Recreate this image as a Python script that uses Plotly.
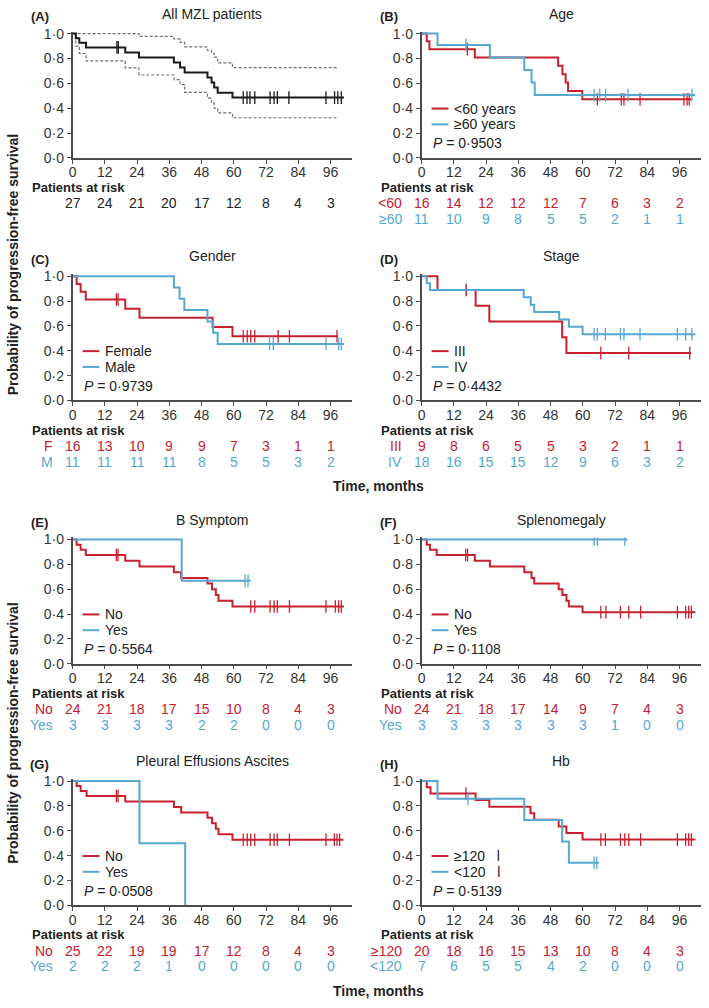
import plotly.graph_objects as go

W, H = 709, 1008
RED = '#C8202E'
BLUE = '#56A8D2'
BLACK = '#1a1a1a'
GREY = '#6e6e6e'
AXIS = '#4a4a4a'
TXT = '#222222'
FONT = 'Liberation Sans, Arial, sans-serif'

# ---------------- axis / table labels ----------------
TICK_TIMES = [0, 12, 24, 36, 48, 60, 72, 84, 96]
Y_TICKS = [0, 0.2, 0.4, 0.6, 0.8, 1.0]
Y_TICKTEXT = ['0·0', '0·2', '0·4', '0·6', '0·8', '1·0']

# ---------------- (A) All MZL patients ----------------
A_times = [0, 1.2, 2.5, 5.0, 19.6, 24.7, 37.7, 40.0, 41.7, 50.2, 51.7, 52.7, 54.0, 59.5]
A_surv = [1.0, 0.963, 0.926, 0.889, 0.848, 0.808, 0.768, 0.727, 0.687, 0.646, 0.606, 0.566, 0.525, 0.485]
A_cens = [16.5, 17.0, 63.5, 64.9, 66.0, 67.8, 73.5, 75.0, 76.2, 80.5, 94.3, 97.5, 98.7, 100.0]
A_end = 101.0
A_upper_times = [0, 24.7, 37.7, 40.0, 41.7, 50.2, 51.7, 52.7, 54.0, 59.5]
A_upper = [1.0, 0.977, 0.957, 0.930, 0.893, 0.866, 0.840, 0.810, 0.765, 0.727]
A_lower_times = [0, 1.2, 2.5, 5.0, 19.6, 24.7, 37.7, 40.0, 41.7, 50.2, 51.7, 52.7, 54.0, 59.5]
A_lower = [1.0, 0.90, 0.84, 0.78, 0.725, 0.667, 0.630, 0.590, 0.527, 0.480, 0.440, 0.400, 0.362, 0.323]
A_ci_end = 99.0
A_risk = [27, 24, 21, 20, 17, 12, 8, 4, 3]

# ---------------- (B) Age ----------------
B_lt60_times = [0, 1.9, 2.9, 19.8, 50.8, 52.4, 53.6, 54.5, 59.8]
B_lt60_surv = [1.0, 0.9375, 0.875, 0.808, 0.741, 0.673, 0.606, 0.539, 0.472]
B_lt60_cens = [17.0, 65.4, 74.3, 75.3, 81.3, 97.6, 98.8, 99.6]
B_lt60_end = 100.6
B_ge60_times = [0, 5.9, 25.4, 38.2, 40.9, 42.1]
B_ge60_surv = [1.0, 0.909, 0.808, 0.707, 0.606, 0.505]
B_ge60_cens = [16.5, 64.2, 66.3, 68.5, 76.8, 100.6]
B_ge60_end = 101.8
B_risk_lt60 = [16, 14, 12, 12, 12, 7, 6, 3, 2]
B_risk_ge60 = [11, 10, 9, 8, 5, 5, 2, 1, 1]

# ---------------- (C) Gender ----------------
C_f_times = [0, 1.5, 3.0, 4.9, 19.6, 24.9, 52.1, 59.5]
C_f_surv = [1.0, 0.9375, 0.875, 0.8125, 0.739, 0.665, 0.591, 0.517]
C_f_cens = [16.3, 16.9, 63.5, 65.0, 66.3, 67.8, 76.5, 80.7, 98.4]
C_f_end = 98.8
C_m_times = [0, 37.7, 39.8, 41.6, 50.2, 52.3, 54.0]
C_m_surv = [1.0, 0.909, 0.818, 0.727, 0.636, 0.545, 0.455]
C_m_cens = [73.3, 74.7, 94.3, 99.0, 100.0]
C_m_end = 101.0
C_risk_f = [16, 13, 10, 9, 9, 7, 3, 1, 1]
C_risk_m = [11, 11, 11, 11, 8, 5, 5, 3, 2]

# ---------------- (D) Stage ----------------
D_iii_times = [0, 5.9, 20.1, 25.2, 52.3, 53.9]
D_iii_surv = [1.0, 0.889, 0.762, 0.635, 0.508, 0.381]
D_iii_cens = [16.7, 66.7, 77.1, 99.8]
D_iii_end = 100.3
D_iv_times = [0, 1.9, 3.1, 38.0, 40.6, 41.9, 51.2, 54.8, 59.9]
D_iv_surv = [1.0, 0.944, 0.889, 0.830, 0.770, 0.711, 0.652, 0.593, 0.533]
D_iv_cens = [16.4, 64.2, 65.4, 68.4, 74.0, 75.3, 81.3, 95.2, 98.3, 100.6]
D_iv_end = 101.9
D_risk_iii = [9, 8, 6, 5, 5, 3, 2, 1, 1]
D_risk_iv = [18, 16, 15, 15, 12, 9, 6, 3, 2]

# ---------------- (E) B Symptom ----------------
E_no_times = [0, 1.5, 3.0, 4.9, 19.6, 24.9, 37.7, 40.4, 50.2, 51.9, 53.3, 54.3, 59.5]
E_no_surv = [1.0, 0.958, 0.917, 0.875, 0.829, 0.783, 0.737, 0.691, 0.645, 0.599, 0.553, 0.507, 0.461]
E_no_cens = [16.3, 16.9, 66.3, 67.8, 73.5, 75.0, 76.2, 80.7, 94.3, 97.8, 99.0, 100.0]
E_no_end = 101.0
E_yes_times = [0, 40.6]
E_yes_surv = [1.0, 0.667]
E_yes_cens = [64.2, 65.3]
E_yes_end = 66.3
E_risk_no = [24, 21, 18, 17, 15, 10, 8, 4, 3]
E_risk_yes = [3, 3, 3, 3, 2, 2, 0, 0, 0]

# ---------------- (F) Splenomegaly ----------------
F_no_times = [0, 1.9, 3.1, 5.6, 19.8, 25.4, 38.2, 40.9, 41.9, 51.0, 52.4, 53.9, 54.8, 59.9]
F_no_surv = [1.0, 0.958, 0.917, 0.875, 0.829, 0.783, 0.737, 0.691, 0.645, 0.599, 0.553, 0.507, 0.461, 0.415]
F_no_cens = [16.4, 17.1, 66.7, 68.6, 74.0, 77.1, 81.5, 95.2, 98.3, 99.4, 100.4]
F_no_end = 101.9
F_yes_times = [0]
F_yes_surv = [1.0]
F_yes_cens = [64.2, 65.4, 75.6]
F_yes_end = 76.6
F_risk_no = [24, 21, 18, 17, 14, 9, 7, 4, 3]
F_risk_yes = [3, 3, 3, 3, 3, 3, 1, 0, 0]

# ---------------- (G) Pleural Effusions Ascites ----------------
G_no_times = [0, 1.5, 3.0, 5.2, 19.6, 37.7, 40.4, 50.2, 51.9, 53.3, 54.3, 59.5]
G_no_surv = [1.0, 0.96, 0.92, 0.88, 0.836, 0.792, 0.748, 0.704, 0.66, 0.616, 0.572, 0.528]
G_no_cens = [16.3, 16.9, 63.5, 65.0, 66.3, 67.8, 73.5, 75.0, 76.2, 80.7, 94.3, 97.4, 98.4, 99.4]
G_no_end = 100.8
G_yes_times = [0, 24.9, 41.9]
G_yes_surv = [1.0, 0.5, 0.0]
G_yes_cens = []
G_yes_end = 41.9
G_risk_no = [25, 22, 19, 19, 17, 12, 8, 4, 3]
G_risk_yes = [2, 2, 2, 1, 0, 0, 0, 0, 0]

# ---------------- (H) Hb ----------------
H_ge_times = [0, 1.9, 3.3, 20.1, 25.2, 40.5, 41.9, 51.0, 53.9, 59.9]
H_ge_surv = [1.0, 0.95, 0.90, 0.847, 0.794, 0.741, 0.688, 0.635, 0.582, 0.529]
H_ge_cens = [16.5, 66.7, 68.4, 74.0, 75.6, 77.1, 81.5, 95.2, 98.3, 99.4, 100.4]
H_ge_end = 101.9
H_lt_times = [0, 5.9, 38.2, 52.3, 54.8]
H_lt_surv = [1.0, 0.857, 0.686, 0.514, 0.343]
H_lt_cens = [17.3, 64.2, 65.2]
H_lt_end = 66.0
H_risk_ge = [20, 18, 16, 15, 13, 10, 8, 4, 3]
H_risk_lt = [7, 6, 5, 5, 4, 2, 0, 0, 0]

NBSP = '\u00a0'
panels = [
    dict(tag='(A)', title='All MZL patients', pval=None,
         curves=[(A_times, A_surv, A_cens, A_end, BLACK, None)],
         rows=[('', A_risk, TXT)]),
    dict(tag='(B)', title='Age', pval='0·9503',
         curves=[(B_lt60_times, B_lt60_surv, B_lt60_cens, B_lt60_end, RED, '<60 years'),
                 (B_ge60_times, B_ge60_surv, B_ge60_cens, B_ge60_end, BLUE, '≥60 years')],
         rows=[('<60', B_risk_lt60, RED), ('≥60', B_risk_ge60, BLUE)]),
    dict(tag='(C)', title='Gender', pval='0·9739',
         curves=[(C_f_times, C_f_surv, C_f_cens, C_f_end, RED, 'Female'),
                 (C_m_times, C_m_surv, C_m_cens, C_m_end, BLUE, 'Male')],
         rows=[('F', C_risk_f, RED), ('M', C_risk_m, BLUE)]),
    dict(tag='(D)', title='Stage', pval='0·4432',
         curves=[(D_iii_times, D_iii_surv, D_iii_cens, D_iii_end, RED, 'III'),
                 (D_iv_times, D_iv_surv, D_iv_cens, D_iv_end, BLUE, 'IV')],
         rows=[('III', D_risk_iii, RED), ('IV', D_risk_iv, BLUE)]),
    dict(tag='(E)', title='B Symptom', pval='0·5564',
         curves=[(E_no_times, E_no_surv, E_no_cens, E_no_end, RED, 'No'),
                 (E_yes_times, E_yes_surv, E_yes_cens, E_yes_end, BLUE, 'Yes')],
         rows=[('No', E_risk_no, RED), ('Yes', E_risk_yes, BLUE)]),
    dict(tag='(F)', title='Splenomegaly', pval='0·1108',
         curves=[(F_no_times, F_no_surv, F_no_cens, F_no_end, RED, 'No'),
                 (F_yes_times, F_yes_surv, F_yes_cens, F_yes_end, BLUE, 'Yes')],
         rows=[('No', F_risk_no, RED), ('Yes', F_risk_yes, BLUE)]),
    dict(tag='(G)', title='Pleural Effusions Ascites', pval='0·0508',
         curves=[(G_no_times, G_no_surv, G_no_cens, G_no_end, RED, 'No'),
                 (G_yes_times, G_yes_surv, G_yes_cens, G_yes_end, BLUE, 'Yes')],
         rows=[('No', G_risk_no, RED), ('Yes', G_risk_yes, BLUE)]),
    dict(tag='(H)', title='Hb', pval='0·5139',
         curves=[(H_ge_times, H_ge_surv, H_ge_cens, H_ge_end, RED, '≥120' + NBSP * 3 + 'l'),
                 (H_lt_times, H_lt_surv, H_lt_cens, H_lt_end, BLUE, '<120' + NBSP * 3 + 'l')],
         rows=[('≥120', H_risk_ge, RED), ('<120', H_risk_lt, BLUE)]),
]

# ---------------- geometry (pixels) ----------------
COL_X = [69, 420]
PLOT_W = 281
ROW_BOTTOM = [154, 400, 667, 912]
UNIT_H = 126
Y_TOP = 1.016
X_MAX = 104


def px(x):
    return x / W


def py(y):
    return 1 - y / H


def surv_at(times, surv, t):
    val = surv[0]
    for ti, si in zip(times, surv):
        if ti <= t:
            val = si
    return val


fig = go.Figure()
annotations = []
shapes = []
layout_axes = {}

for i, p in enumerate(panels):
    row, col = divmod(i, 2)
    k = i + 1
    xname = 'xaxis' if k == 1 else f'xaxis{k}'
    yname = 'yaxis' if k == 1 else f'yaxis{k}'
    xr = 'x' if k == 1 else f'x{k}'
    yr = 'y' if k == 1 else f'y{k}'
    x0 = COL_X[col]
    bot = ROW_BOTTOM[row]
    top = bot - UNIT_H * Y_TOP

    layout_axes[xname] = dict(
        domain=[px(x0), px(x0 + PLOT_W)], range=[0, X_MAX], anchor=yr,
        tickvals=TICK_TIMES, ticktext=[str(t) for t in TICK_TIMES],
        showline=True, linecolor=AXIS, linewidth=1.5, ticks='outside',
        ticklen=4, tickwidth=1.2, tickcolor=AXIS, showgrid=False, zeroline=False,
        ticklabelstandoff=-3,
        tickfont=dict(size=14, color='#333', family=FONT), fixedrange=True)
    layout_axes[yname] = dict(
        domain=[py(bot), py(top)], range=[0, Y_TOP], anchor=xr,
        tickvals=Y_TICKS, ticktext=Y_TICKTEXT,
        showline=True, linecolor=AXIS, linewidth=1.5, ticks='outside',
        ticklen=4, tickwidth=1.2, tickcolor=AXIS, showgrid=False, zeroline=False,
        tickfont=dict(size=14, color='#333', family=FONT), fixedrange=True)

    if i == 0:
        for ct, cv in ((A_upper_times, A_upper), (A_lower_times, A_lower)):
            fig.add_trace(go.Scatter(
                x=ct + [A_ci_end], y=cv + [cv[-1]], mode='lines', line_shape='hv',
                line=dict(color=GREY, width=1.2, dash='3px,2px'),
                xaxis=xr, yaxis=yr, showlegend=False, hoverinfo='skip'))

    for times, surv, cens, end, color, label in p['curves']:
        fig.add_trace(go.Scatter(
            x=times + [end], y=surv + [surv[-1]], mode='lines', line_shape='hv',
            line=dict(color=color, width=2), xaxis=xr, yaxis=yr,
            showlegend=False, hoverinfo='skip'))
        if cens:
            fig.add_trace(go.Scatter(
                x=cens, y=[surv_at(times, surv, c) for c in cens], mode='markers',
                marker=dict(symbol='line-ns-open', size=9, color=color,
                            line=dict(color=color, width=1.3)),
                xaxis=xr, yaxis=yr, showlegend=False, hoverinfo='skip'))

    # title and panel tag
    title_y = bot - UNIT_H - 20
    annotations.append(dict(text=p['title'], x=px(x0 + PLOT_W / 2), y=py(title_y),
                            xref='paper', yref='paper', showarrow=False,
                            xanchor='center', yanchor='middle',
                            font=dict(size=14, color=TXT, family=FONT)))
    annotations.append(dict(text='<b>' + p['tag'] + '</b>', x=px(x0 - 33), y=py(title_y + 3),
                            xref='paper', yref='paper', showarrow=False,
                            xanchor='center', yanchor='middle',
                            font=dict(size=13, color=TXT, family=FONT)))

    # legend (manual)
    leg_offsets = [50, 34]
    for (times, surv, cens, end, color, label), off in zip(p['curves'], leg_offsets):
        if label is None:
            continue
        ly = bot - off
        shapes.append(dict(type='line', xref='paper', yref='paper',
                           x0=px(x0 + 10), x1=px(x0 + 27), y0=py(ly), y1=py(ly),
                           line=dict(color=color, width=2)))
        annotations.append(dict(text=label, x=px(x0 + 31), y=py(ly),
                                xref='paper', yref='paper', showarrow=False,
                                xanchor='left', yanchor='middle',
                                font=dict(size=14, color=TXT, family=FONT)))
    if p['pval']:
        annotations.append(dict(text='<i>P</i> = ' + p['pval'], x=px(x0 + 9), y=py(bot - 15),
                                xref='paper', yref='paper', showarrow=False,
                                xanchor='left', yanchor='middle',
                                font=dict(size=14, color=TXT, family=FONT)))

    # patients at risk table
    annotations.append(dict(text='<b>Patients at risk</b>', x=px(x0 - 43), y=py(bot + 30),
                            xref='paper', yref='paper', showarrow=False,
                            xanchor='left', yanchor='middle',
                            font=dict(size=13, color=TXT, family=FONT)))
    for r, (lab, vals, color) in enumerate(p['rows']):
        ry = bot + 46 + 16 * r
        if lab:
            annotations.append(dict(text=lab, x=px(x0 - 18), y=py(ry),
                                    xref='paper', yref='paper', showarrow=False,
                                    xanchor='right', yanchor='middle',
                                    font=dict(size=14, color=color, family=FONT)))
        for t, v in zip(TICK_TIMES, vals):
            annotations.append(dict(text=str(v), x=t, y=py(ry),
                                    xref=xr, yref='paper', showarrow=False,
                                    xanchor='center', yanchor='middle',
                                    font=dict(size=14, color=color, family=FONT)))

# shared axis titles
for cy in (262, 737):
    annotations.append(dict(text='<b>Probability of progression-free survival</b>',
                            x=px(9), y=py(cy), xref='paper', yref='paper',
                            showarrow=False, textangle=-90,
                            xanchor='center', yanchor='middle',
                            font=dict(size=14, color=TXT, family=FONT)))
for ty in (487, 999):
    annotations.append(dict(text='<b>Time, months</b>', x=px(377), y=py(ty),
                            xref='paper', yref='paper', showarrow=False,
                            xanchor='center', yanchor='middle',
                            font=dict(size=14, color=TXT, family=FONT)))

fig.update_layout(
    width=W, height=H, margin=dict(l=0, r=0, t=0, b=0),
    paper_bgcolor='white', plot_bgcolor='white',
    font=dict(family=FONT, color=TXT), showlegend=False,
    annotations=annotations, shapes=shapes, hovermode=False,
    **layout_axes)

fig.write_html('out.html', config=dict(displayModeBar=False),
               post_script="document.body.style.margin='0';document.body.style.overflow='hidden';")
